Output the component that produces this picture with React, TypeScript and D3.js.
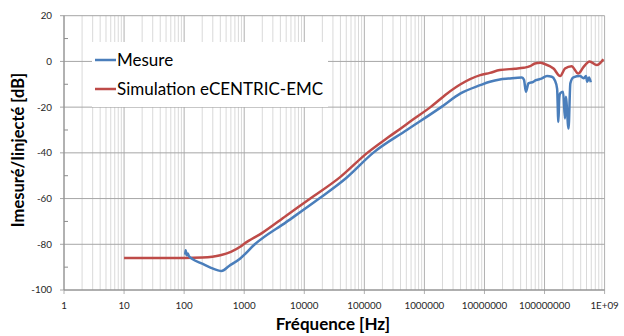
import * as d3 from "d3"

const W = 624
const H = 336

// decade ticks on the frequency axis and their labels as printed
const xTicks = [1, 1e1, 1e2, 1e3, 1e4, 1e5, 1e6, 1e7, 1e8, 1e9]
const xTickLabels = ["1", "10", "100", "1000", "10000", "100000", "1000000", "10000000", "100000000", "1E+09"]
const yTicks = [20, 0, -20, -40, -60, -80, -100]
const yMinorTicks = [10, -10, -30, -50, -70, -90]

// Mesure (blue)
const mesureFreq = [
    104, 106, 110, 115, 120, 135, 200, 280, 420, 560, 850, 1500, 5000, 17700, 50000, 140000, 510000,
    1.9e6, 4e6, 8.5e6, 1.23e7, 1.8e7, 2.5e7, 4.2e7, 4.55e7, 4.9e7, 5.4e7, 6.5e7, 7.2e7, 7.9e7, 8.9e7,
    1.1e8, 1.32e8, 1.48e8, 1.62e8, 1.7e8, 1.76e8, 1.82e8, 2.04e8, 2.19e8, 2.26e8, 2.51e8, 2.69e8,
    3.02e8, 3.89e8, 4.47e8, 4.9e8, 5.13e8, 5.5e8, 5.89e8,
]
const mesureDb = [
    -84.5, -82.6, -84.8, -84.0, -85.2, -86.3, -88.5, -90.3, -91.7, -89.5, -86.3, -80, -70.3, -60, -51, -40, -30,
    -20, -14, -10.4, -8.9, -7.9, -7.5, -7, -8, -13.3, -9.6, -8.9, -8.2, -7.9, -7.5,
    -6.4, -6.7, -8.2, -12, -26.5, -16, -14, -13.3, -25, -15.5, -29.4, -9.6,
    -7, -6.4, -7.4, -6.4, -8.9, -7, -9.1,
]

// Simulation eCENTRIC-EMC (red)
const simFreq = [
    10, 100, 200, 400, 600, 870, 1000, 2000, 5000, 12600, 40000, 112000, 250000, 420000, 580000,
    1.26e6, 2.4e6, 4e6, 8.5e6, 1.23e7, 1.8e7, 3.2e7, 4.5e7, 5.75e7, 6.9e7, 8.5e7, 1.02e8, 1.41e8,
    1.82e8, 2.19e8, 2.82e8, 3.63e8, 4.47e8, 5.62e8, 7.41e8, 9.55e8,
]
const simDb = [
    -86, -86, -85.8, -84.8, -83.3, -81, -79.8, -75, -67.5, -60, -50.5, -40, -33.2, -29, -26.3,
    -20, -14, -10, -6, -5, -3.8, -3.2, -2.8, -2.1, -0.9, -0.6, -1.2, -3.1,
    -6.4, -3.1, -2.1, -5.3, -2.4, 0, -1.6, 1,
]

const BLUE = "#4a7ebb"
const RED = "#be4b48"
const FONT = "Lato, 'Open Sans', sans-serif"

export default function App() {
    const left = 64
    const right = 604.6
    const top = 15.7
    const bottom = 290

    const x = d3.scaleLog().domain([1, 1e9]).range([left, right])
    const y = d3.scaleLinear().domain([-100, 20]).range([bottom, top])

    const minorX: number[] = []
    for (let p = 0; p < 9; p++) {
        for (let k = 2; k <= 9; k++) minorX.push(k * Math.pow(10, p))
    }

    const line = d3
        .line<[number, number]>()
        .x((d) => x(d[0]))
        .y((d) => y(d[1]))
        .curve(d3.curveMonotoneX)

    const mesure = mesureFreq.map((f, i) => [f, mesureDb[i]] as [number, number])
    const sim = simFreq.map((f, i) => [f, simDb[i]] as [number, number])

    return (
        <svg
            width={W}
            height={H}
            viewBox={`0 0 ${W} ${H}`}
            style={{ position: "absolute", left: 0, top: 0, background: "#fff" }}
            fontFamily={FONT}
        >
            <rect x={0} y={0} width={W} height={H} fill="#fff" />

            {/* minor vertical grid */}
            {minorX.map((f) => (
                <line key={"mx" + f} x1={x(f)} x2={x(f)} y1={top} y2={bottom} stroke="#d9d9d9" strokeWidth={1} />
            ))}
            {/* decade grid */}
            {xTicks.map((f) => (
                <line key={"gx" + f} x1={x(f)} x2={x(f)} y1={top} y2={bottom + 4} stroke="#b0b0b0" strokeWidth={1} />
            ))}
            {/* horizontal grid */}
            {yTicks.map((v) => (
                <line key={"gy" + v} x1={left - 4} x2={right} y1={y(v)} y2={y(v)} stroke="#a6a6a6" strokeWidth={1} />
            ))}
            {yMinorTicks.map((v) => (
                <line key={"my" + v} x1={left} x2={left + 4} y1={y(v)} y2={y(v)} stroke="#8c8c8c" strokeWidth={1} />
            ))}

            {/* axes */}
            <line x1={left} x2={left} y1={top} y2={bottom} stroke="#8c8c8c" />
            <line x1={left} x2={right} y1={bottom} y2={bottom} stroke="#8c8c8c" />

            {yTicks.map((v) => (
                <text key={"ty" + v} x={52} y={y(v)} dy="0.35em" textAnchor="end" fontSize={9.8} fill="#262626">
                    {v}
                </text>
            ))}
            {xTicks.map((f, i) => (
                <text key={"tx" + f} x={x(f)} y={309} textAnchor="middle" fontSize={9.8} fill="#262626">
                    {xTickLabels[i]}
                </text>
            ))}

            {/* series */}
            <path d={line(sim) || ""} fill="none" stroke={RED} strokeWidth={2.5} strokeLinejoin="round" />
            <path d={line(mesure) || ""} fill="none" stroke={BLUE} strokeWidth={2.5} strokeLinejoin="round" />

            {/* legend */}
            <rect x={92} y={42} width={236} height={65} fill="#fff" />
            <line x1={95} x2={116} y1={60} y2={60} stroke={BLUE} strokeWidth={2.5} />
            <text x={117} y={60} dy="0.35em" fontSize={17} fill="#000">
                Mesure
            </text>
            <line x1={95} x2={116} y1={89} y2={89} stroke={RED} strokeWidth={2.5} />
            <text x={117} y={89} dy="0.35em" fontSize={17} fill="#000">
                Simulation eCENTRIC-EMC
            </text>

            {/* axis titles */}
            <text x={333} y={330} textAnchor="middle" fontSize={17} fontWeight="bold" fill="#000">
                Fréquence [Hz]
            </text>
            <text
                transform="translate(24,150) rotate(-90)"
                textAnchor="middle"
                fontSize={16.5}
                fontWeight="bold"
                fill="#000"
            >
                Imesuré/Iinjecté [dB]
            </text>
        </svg>
    )
}
